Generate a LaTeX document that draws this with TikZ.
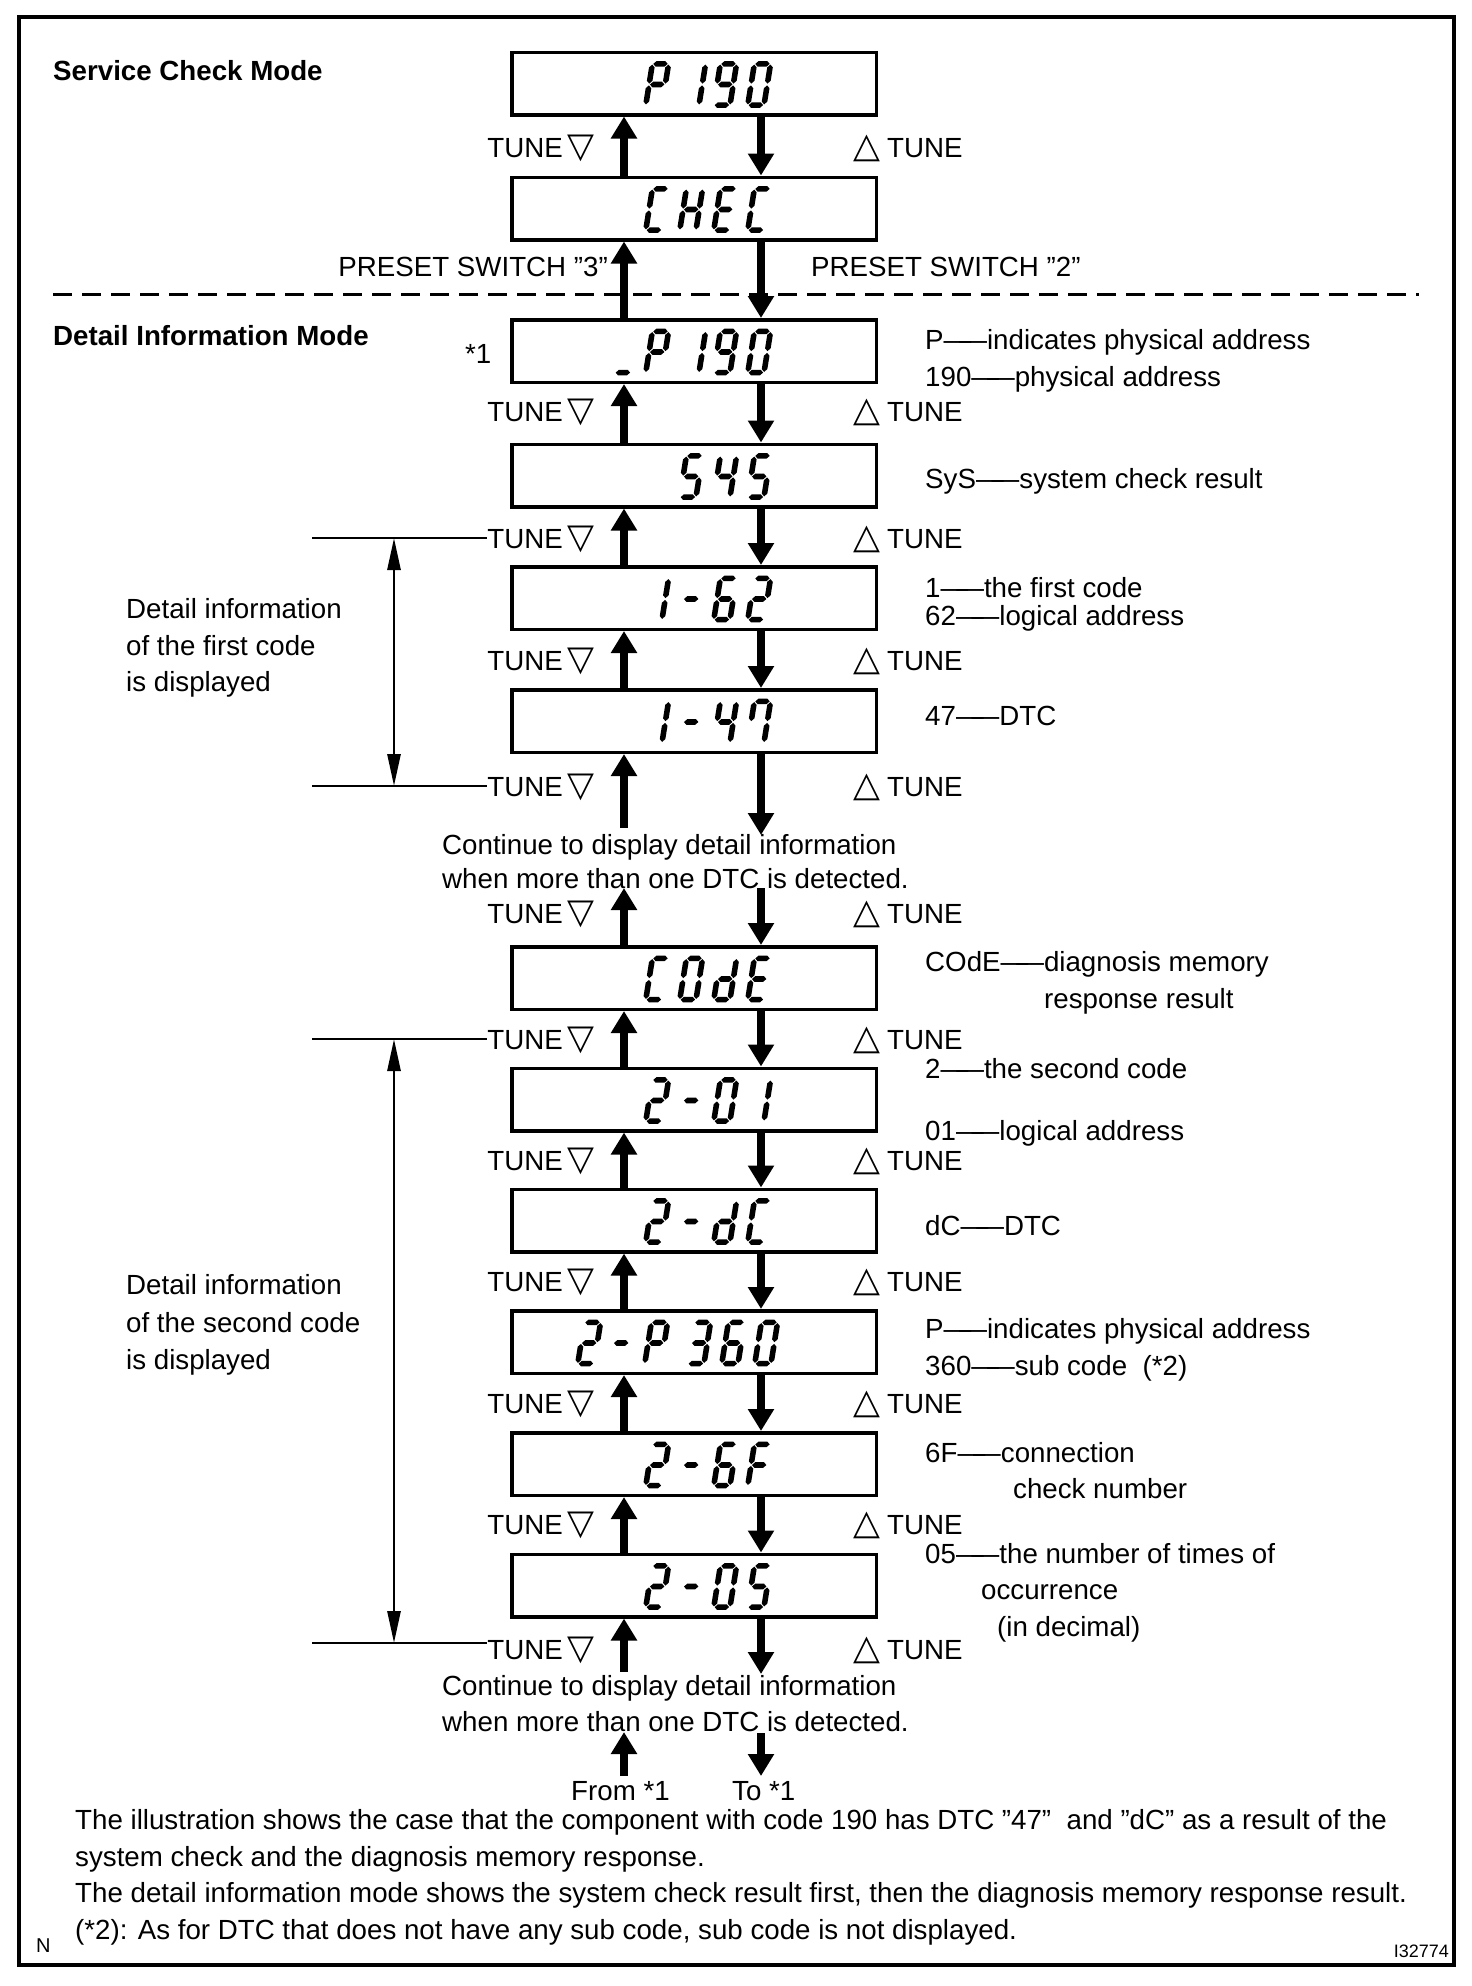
\documentclass[tikz,border=0pt]{standalone}
\usepackage{fontspec}
\setmainfont{Liberation Sans}
\newfontfamily\symfont{DejaVu Sans}
\usetikzlibrary{arrows.meta}

% seven-segment pieces (upright coordinates, v up)
\newcommand\segH[3]{\fill (#1,#3) -- ({#1+2.8},{#3+2.8}) -- ({#2-2.8},{#3+2.8}) -- (#2,#3) -- ({#2-2.8},{#3-2.8}) -- ({#1+2.8},{#3-2.8}) -- cycle;}
\newcommand\segV[3]{\fill (#1,#2) -- ({#1+2.8},{#2+2.8}) -- ({#1+2.8},{#3-2.8}) -- (#1,#3) -- ({#1-2.8},{#3-2.8}) -- ({#1-2.8},{#2+2.8}) -- cycle;}
\newcommand\segma{\segH{3.3}{17.7}{43.6}}
\newcommand\segmb{\segV{18.6}{23.9}{42.9}}
\newcommand\segmc{\segV{18.6}{3.1}{22.1}}
\newcommand\segmd{\segH{3.3}{17.7}{2.4}}
\newcommand\segme{\segV{2.4}{3.1}{22.1}}
\newcommand\segmf{\segV{2.4}{23.9}{42.9}}
\newcommand\segmg{\segH{3.3}{17.7}{23}}
\newcommand\defglyph[2]{\expandafter\def\csname sgl#1\endcsname{#2}}
\defglyph{P}{a,b,e,f,g}
\defglyph{1}{b,c}
\defglyph{9}{a,b,c,d,f,g}
\defglyph{0}{a,b,c,d,e,f}
\defglyph{O}{a,b,c,d,e,f}
\defglyph{C}{a,d,e,f}
\defglyph{H}{b,c,e,f,g}
\defglyph{E}{a,d,e,f,g}
\defglyph{5}{a,c,d,f,g}
\defglyph{4}{b,c,f,g}
\defglyph{m}{g}
\defglyph{6}{a,c,d,e,f,g}
\defglyph{2}{a,b,d,e,g}
\defglyph{7}{a,b,c,f}
\defglyph{d}{b,c,d,e,g}
\defglyph{3}{a,b,c,d,g}
\defglyph{F}{a,e,f,g}
\defglyph{u}{d}
\newcommand\sevseg[3]{\begin{scope}[shift={(#1,#2)},yscale=-1,xslant=-0.16]
  \expandafter\let\expandafter\sglist\csname sgl#3\endcsname
  \foreach \s in \sglist {\csname segm\s\endcsname}
\end{scope}}
\newcommand\disp[2]{\foreach \gx/\gch in {#2}{\sevseg{\gx}{#1}{\gch}}}
\newcommand\mydash{—\kern-12pt—}
\newcommand\dtri{{\symfont\fontsize{35}{35}\selectfont ▽}}
\newcommand\utri{{\symfont\fontsize{35}{35}\selectfont △}}

\begin{document}
\begin{tikzpicture}[x=1pt,y=-1pt,font=\fontsize{27.7}{33}\selectfont,
  dispbox/.style={draw,line width=3.5pt,minimum width=364.5pt,minimum height=62.5pt,inner sep=0pt},
  bigarr/.style={line width=8pt,-{Triangle[width=25pt,length=22pt]}},
  txt/.style={inner sep=0pt,anchor=base west},
  txtr/.style={inner sep=0pt,anchor=base east},
  brk/.style={line width=2.8pt},
  dimarr/.style={line width=2.8pt,{Triangle[width=13pt,length=32pt]}-{Triangle[width=13pt,length=32pt]}}]
\fill[white] (0,0) rectangle (1472,1986);
\useasboundingbox (0,0) rectangle (1472,1986);
\draw[line width=4.5pt] (19,17) rectangle (1454,1965);

% titles
\node[txt,font=\fontsize{27.7}{33}\selectfont\bfseries] (t1) at (53,80) {Service Check Mode};
\node[txt,font=\fontsize{27.7}{33}\selectfont\bfseries] (t2) at (53,345) {Detail Information Mode};
\draw[line width=3pt,dash pattern=on 19pt off 10pt] (53,294) -- (1419,294);

% display boxes
\foreach \n/\yy in {1/83.5,2/208.5,3/351,4/475.5,5/598,6/721,7/978,8/1099.5,9/1220.5,10/1342,11/1464,12/1585.5}
  {\node[dispbox] (b\n) at (694,\yy) {};}

% seven-segment contents
\disp{107.5}{643/P,680/1,711/9,745/0}
\disp{232.5}{643/C,677/H,711/E,745/C}
\disp{375}{612/u,643/P,680/1,711/9,745/0}
\disp{499.5}{677/5,711/4,745/5}
\disp{622}{643/1,677/m,711/6,745/2}
\disp{745}{643/1,677/m,711/4,745/7}
\disp{1002}{643/C,677/O,711/d,745/E}
\disp{1123.5}{643/2,677/m,711/0,745/1}
\disp{1244.5}{643/2,677/m,711/d,745/C}
\disp{1366}{575/2,607/m,642/P,685/3,719/6,752/0}
\disp{1488}{643/2,677/m,711/6,745/F}
\disp{1609.5}{643/2,677/m,711/0,745/5}

% arrows between boxes
\foreach \u/\l in {1/2,2/3,3/4,4/5,5/6,7/8,8/9,9/10,10/11,11/12}{
  \draw[bigarr] ([xshift=-70pt]b\l.north) -- ([xshift=-70pt]b\u.south);
  \draw[bigarr] ([xshift=67pt]b\u.south) -- ([xshift=67pt]b\l.north);}
\coordinate (g6u) at (624,828); \coordinate (g6d) at (761,835);
\coordinate (g6u2) at (624,888); \coordinate (g6d2) at (761,888);
\draw[bigarr] (g6u) -- ([xshift=-70pt]b6.south);
\draw[bigarr] ([xshift=67pt]b6.south) -- (g6d);
\draw[bigarr] ([xshift=-70pt]b7.north) -- (g6u2);
\draw[bigarr] (g6d2) -- ([xshift=67pt]b7.north);
\coordinate (e12u) at (624,1672); \coordinate (e12d) at (761,1674);
\draw[bigarr] (e12u) -- ([xshift=-70pt]b12.south);
\draw[bigarr] ([xshift=67pt]b12.south) -- (e12d);
\coordinate (fu1) at (624,1776); \coordinate (fu2) at (624,1732);
\coordinate (td1) at (761,1733); \coordinate (td2) at (761,1776);
\draw[bigarr] (fu1) -- (fu2);
\draw[bigarr] (td1) -- (td2);

% TUNE labels
\foreach \n/\yy in {1/147,3/411,4/538,5/660,6/786,6b/913,7/1039,8/1160,9/1281,10/1403,11/1524,12/1649}{
  \node[txtr] (tl\n) at (595,{\yy+10}) {TUNE\kern5pt\dtri};
  \node[txt] (tr\n) at (853,{\yy+10}) {\utri\kern7pt TUNE};}

% preset switch
\node[txtr] (ps3) at (608,276) {PRESET SWITCH ”3”};
\node[txt] (ps2) at (811,276) {PRESET SWITCH ”2”};
\node[txt] (st1) at (465,363) {*1};

% brackets
\coordinate (k1a) at (312,538); \coordinate (k1b) at (312,786);
\coordinate (k2a) at (312,1039); \coordinate (k2b) at (312,1643);
\draw[brk] (k1a) -- (k1a -| tl4.west);
\draw[brk] (k1b) -- (k1b -| tl6.west);
\draw[brk] (k2a) -- (k2a -| tl7.west);
\draw[brk] (k2b) -- (k2b -| tl12.west);
\coordinate (v1a) at (394,538); \coordinate (v1b) at (394,786);
\coordinate (v2a) at (394,1039); \coordinate (v2b) at (394,1643);
\draw[dimarr] (v1a) -- (v1b);
\draw[dimarr] (v2a) -- (v2b);

\node[txt] (l1a) at (126,618) {Detail information};
\node[txt] (l1b) at (126,655) {of the first code};
\node[txt] (l1c) at (126,691) {is displayed};
\node[txt] (l2a) at (126,1294) {Detail information};
\node[txt] (l2b) at (126,1332) {of the second code};
\node[txt] (l2c) at (126,1369) {is displayed};

% right descriptions
\node[txt] (d1) at (925,349) {P\mydash indicates physical address};
\node[txt] (d2) at (925,386) {190\mydash physical address};
\node[txt] (d3) at (925,488) {SyS\mydash system check result};
\node[txt] (d4) at (925,597) {1\mydash the first code};
\node[txt] (d5) at (925,625) {62\mydash logical address};
\node[txt] (d6) at (925,725) {47\mydash DTC};
\node[txt] (d7) at (925,971) {COdE\mydash diagnosis memory};
\node[txt] (d7b) at (1044,1008) {response result};
\node[txt] (d8) at (925,1078) {2\mydash the second code};
\node[txt] (d9) at (925,1140) {01\mydash logical address};
\node[txt] (d10) at (925,1235) {dC\mydash DTC};
\node[txt] (d11) at (925,1338) {P\mydash indicates physical address};
\node[txt] (d12) at (925,1375) {360\mydash sub code\ \ (*2)};
\node[txt] (d13) at (925,1462) {6F\mydash connection};
\node[txt] (d13b) at (1013,1498) {check number};
\node[txt] (d14) at (925,1563) {05\mydash the number of times of};
\node[txt] (d14b) at (981,1599) {occurrence};
\node[txt] (d14c) at (997,1636) {(in decimal)};

% continue notes
\node[txt] (c1a) at (442,854) {Continue to display detail information};
\node[txt] (c1b) at (442,888) {when more than one DTC is detected.};
\node[txt] (c2a) at (442,1695) {Continue to display detail information};
\node[txt] (c2b) at (442,1731) {when more than one DTC is detected.};
\node[txt] (fr) at (571,1800) {From *1};
\node[txt] (to) at (732,1800) {To *1};

% bottom notes
\node[txt] (n1) at (75,1829) {The illustration shows the case that the component with code 190 has DTC ”47”\ \ and ”dC” as a result of the};
\node[txt] (n2) at (75,1866) {system check and the diagnosis memory response.};
\node[txt] (n3) at (75,1902) {The detail information mode shows the system check result first, then the diagnosis memory response result.};
\node[txt] (n4) at (75,1939) {(*2): As for DTC that does not have any sub code, sub code is not displayed.};
\node[txt,font=\fontsize{20}{24}\selectfont] (nn) at (36,1952) {N};
\node[txtr,font=\fontsize{18}{22}\selectfont] (id) at (1449,1957) {I32774};
\end{tikzpicture}
\end{document}
